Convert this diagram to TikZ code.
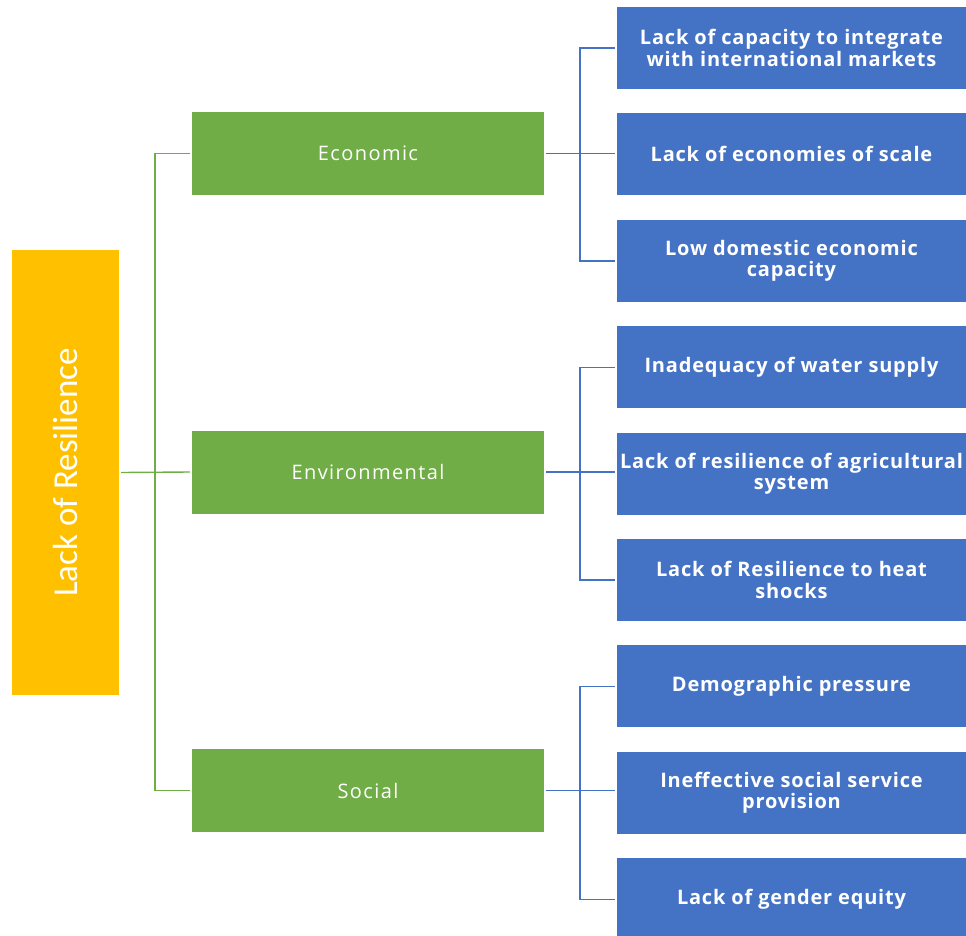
\documentclass[tikz,border=0pt]{standalone}
\usepackage{fontspec}
\setmainfont{Open Sans}
\newfontfamily\rootfont{Carlito}
\newfontfamily\dimfont[LetterSpace=7]{Open Sans}
\newfontfamily\causefont[LetterSpace=4]{Open Sans Bold}
\usetikzlibrary{positioning}

\definecolor{rootyellow}{HTML}{FFC000}
\definecolor{dimgreen}{HTML}{70AD47}
\definecolor{causeblue}{HTML}{4472C4}

\begin{document}
\begin{tikzpicture}[x=1pt,y=-1pt,node distance=24pt]
\tikzstyle{every node}=[inner sep=0pt,text=white,align=center]
\tikzstyle{rootbox}=[fill=rootyellow,rotate=90,minimum width=445pt,minimum height=107pt,font=\rootfont\fontsize{35}{40}\selectfont]
\tikzstyle{dimbox}=[fill=dimgreen,minimum width=352pt,minimum height=83pt,font=\dimfont\fontsize{20}{22}\selectfont]
\tikzstyle{causebox}=[fill=causeblue,minimum width=349pt,minimum height=82pt,font=\causefont\fontsize{20}{21.5}\selectfont]
\tikzstyle{greenline}=[draw=dimgreen,line width=1.4pt]
\tikzstyle{blueline}=[draw=causeblue,line width=1.4pt]

\useasboundingbox (0,0) rectangle (966,936);

\node[rootbox] (root) at (65.5,472.5) {Lack of Resilience};

\node[dimbox] (econ) at (368,153.5) {Economic};
\node[dimbox] (env) at (368,472) {Environmental};
\node[dimbox] (soc) at (368,790.5) {Social};

\node[causebox] (c1) at (791.5,48) {Lack of capacity to integrate\\with international markets};
\node[causebox,below=of c1] (c2) {Lack of economies of scale};
\node[causebox,below=of c2] (c3) {Low domestic economic\\capacity};
\node[causebox,below=of c3] (c4) {Inadequacy of water supply};
\node[causebox,below=of c4] (c5) {Lack of resilience of agricultural\\system};
\node[causebox,below=of c5] (c6) {Lack of Resilience to heat\\shocks};
\node[causebox,below=of c6] (c7) {Demographic pressure};
\node[causebox,below=of c7] (c8) {Ineffective social service\\provision};
\node[causebox,below=of c8] (c9) {Lack of gender equity};

% root to dimensions
\draw[greenline] ([xshift=2pt]root.south) -- ([xshift=-2pt]env.west);
\draw[greenline] ([xshift=-2pt]econ.west) -- ++(-35,0) |- ([xshift=-2pt]soc.west);

% dimensions to causes
\draw[blueline] ([xshift=2pt]econ.east) -- ([xshift=-2pt]econ.east -| c2.west);
\draw[blueline] ([xshift=-2pt]c1.west) -- ++(-35,0) |- ([xshift=-2pt]c3.west);
\draw[blueline] ([xshift=2pt]env.east) -- ([xshift=-2pt]env.east -| c5.west);
\draw[blueline] ([xshift=-2pt]c4.west) -- ++(-35,0) |- ([xshift=-2pt]c6.west);
\draw[blueline] ([xshift=2pt]soc.east) -- ([xshift=-2pt]soc.east -| c8.west);
\draw[blueline] ([xshift=-2pt]c7.west) -- ++(-35,0) |- ([xshift=-2pt]c9.west);
\end{tikzpicture}
\end{document}
